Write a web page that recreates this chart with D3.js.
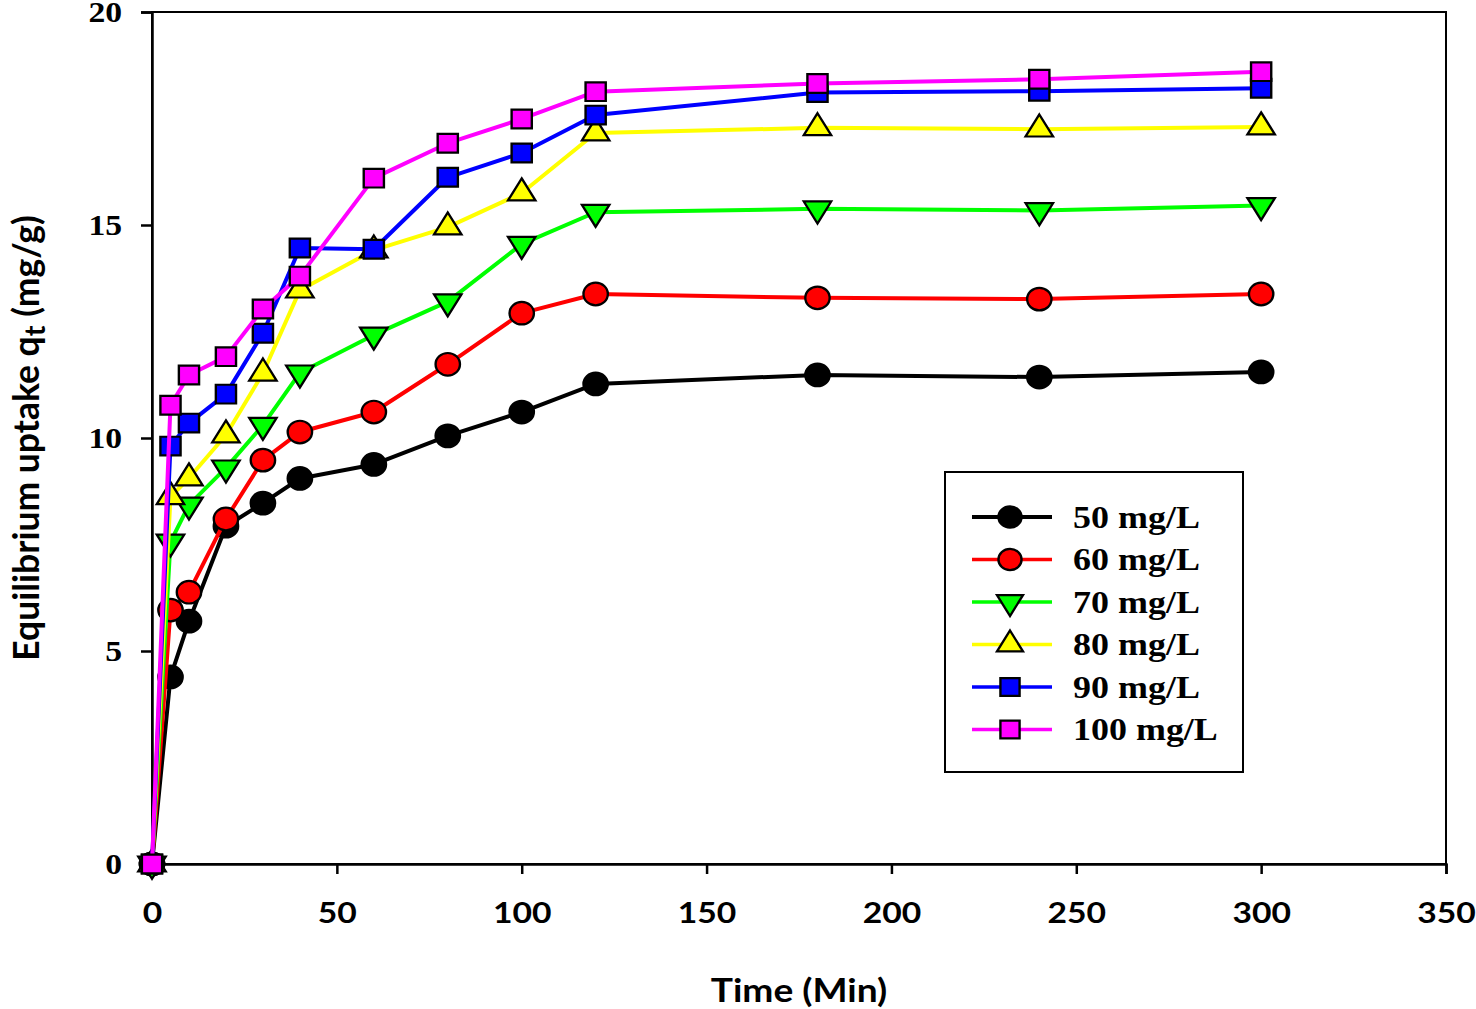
<!DOCTYPE html>
<html>
<head>
<meta charset="utf-8">
<script src="https://cdn.jsdelivr.net/npm/d3@7"></script>
<style>
  body { margin: 0; background: #fff; }
  svg { display: block; }
</style>
</head>
<body>
<div id="chart"></div>
<script>
// time points (min)
var times = [0, 5, 10, 20, 30, 40, 60, 80, 100, 120, 180, 240, 300];

// uptake q_t (mg/g) for each initial concentration
var q50  = [0, 4.39, 5.70, 7.93, 8.47, 9.05, 9.38, 10.05, 10.61, 11.27, 11.48, 11.43, 11.55];
var q60  = [0, 5.96, 6.38, 8.10, 9.48, 10.14, 10.61, 11.73, 12.93, 13.38, 13.29, 13.26, 13.38];
var q70  = [0, 7.56, 8.43, 9.30, 10.30, 11.53, 12.42, 13.20, 14.55, 15.30, 15.38, 15.34, 15.46];
var q80  = [0, 8.62, 9.06, 10.07, 11.52, 13.47, 14.41, 14.95, 15.75, 17.16, 17.28, 17.25, 17.30];
var q90  = [0, 9.81, 10.35, 11.03, 12.46, 14.46, 14.43, 16.12, 16.69, 17.58, 18.11, 18.14, 18.21];
var q100 = [0, 10.77, 11.48, 11.91, 13.03, 13.80, 16.10, 16.92, 17.49, 18.13, 18.32, 18.42, 18.60];

var seriesNames = ["50 mg/L", "60 mg/L", "70 mg/L", "80 mg/L", "90 mg/L", "100 mg/L"];
var seriesValues = [q50, q60, q70, q80, q90, q100];

var xTicks = [0, 50, 100, 150, 200, 250, 300, 350];
var yTicks = [0, 5, 10, 15, 20];

var styles = [
  {color: "#000000", fill: "#000000", shape: "circle"},
  {color: "#ff0000", fill: "#ff0000", shape: "circle"},
  {color: "#00ff00", fill: "#00ff00", shape: "down"},
  {color: "#ffff00", fill: "#ffff00", shape: "up"},
  {color: "#0000ff", fill: "#0000ff", shape: "square"},
  {color: "#ff00ff", fill: "#ff00ff", shape: "square"}
];

var W = 1476, H = 1009;
var margin = {top: 12, right: 30, bottom: 145, left: 152};
var width = W - margin.left - margin.right,
    height = H - margin.top - margin.bottom;

// the source picture is a little wider than tall, so text is stretched sideways
var STRETCH = 1.16;

var x = d3.scaleLinear().domain([0, 350]).range([0, width]);
var y = d3.scaleLinear().domain([0, 20]).range([height, 0]);

var svg = d3.select("#chart").append("svg")
    .attr("width", W)
    .attr("height", H);

var g = svg.append("g")
    .attr("transform", "translate(" + margin.left + "," + margin.top + ")");

var serif = "'Liberation Serif', 'Times New Roman', serif";
var sans = "Lato, 'Open Sans', sans-serif";

function stretch(sel) {
  sel.each(function() {
    var L = this.getComputedTextLength();
    d3.select(this)
      .attr("textLength", L * STRETCH)
      .attr("lengthAdjust", "spacingAndGlyphs");
  });
}

// frame
g.append("rect")
    .attr("width", width)
    .attr("height", height)
    .attr("fill", "none")
    .attr("stroke", "#000")
    .attr("stroke-width", 2);

// axes
var xAxis = g.append("g")
    .attr("transform", "translate(0," + height + ")")
    .call(d3.axisBottom(x).tickValues(xTicks).tickSize(10).tickPadding(28));
var yAxis = g.append("g")
    .call(d3.axisLeft(y).tickValues(yTicks).tickSize(11).tickPadding(19));

[xAxis, yAxis].forEach(function(a) {
  a.select(".domain").attr("stroke-width", 2.5);
  a.selectAll(".tick line").attr("stroke-width", 2.5);
});
xAxis.selectAll(".tick text")
    .attr("font-family", sans)
    .attr("font-weight", "bold")
    .attr("font-size", 29)
    .attr("fill", "#000")
    .call(stretch);
yAxis.selectAll(".tick text")
    .attr("font-family", serif)
    .attr("font-weight", "bold")
    .attr("font-size", 29)
    .attr("fill", "#000")
    .call(stretch);

// axis titles
svg.append("text")
    .attr("x", margin.left + x(175))
    .attr("y", 1002)
    .attr("text-anchor", "middle")
    .attr("font-family", sans)
    .attr("font-weight", "bold")
    .attr("font-size", 32)
    .text("Time (Min)")
    .call(stretch);

var yt = svg.append("text")
    .attr("transform", "translate(39," + (margin.top + y(10)) + ") rotate(-90)")
    .attr("text-anchor", "middle")
    .attr("font-family", sans)
    .attr("font-weight", "bold")
    .attr("font-size", 35.5);
yt.append("tspan").text("Equilibrium uptake q");
yt.append("tspan").attr("baseline-shift", "-22%").attr("font-size", 29).text("t");
yt.append("tspan").text(" (mg/g)");

function symbolPath(shape, scale) {
  scale = scale || 1;
  if (shape === "circle") return d3.symbol().type(d3.symbolCircle).size(400 * scale)();
  if (shape === "square") return d3.symbol().type(d3.symbolSquare).size(350 * scale)();
  return d3.symbol().type(d3.symbolTriangle).size(280 * scale)();
}

function drawMarker(sel, st, scale) {
  sel.append("path")
      .attr("d", symbolPath(st.shape, scale))
      .attr("transform", (st.shape === "down" ? "rotate(180) " : "") + "scale(1.08,1)")
      .attr("fill", st.fill)
      .attr("stroke", "#000")
      .attr("stroke-width", 2.2);
}

var line = d3.line()
    .x(function(d) { return x(d[0]); })
    .y(function(d) { return y(d[1]); });

seriesValues.forEach(function(vals, i) {
  var st = styles[i];
  var pts = times.map(function(t, j) { return [t, vals[j]]; });
  var sg = g.append("g").attr("class", "series");
  sg.append("path")
      .datum(pts)
      .attr("d", line)
      .attr("fill", "none")
      .attr("stroke", st.color)
      .attr("stroke-width", 4)
      .attr("stroke-linejoin", "round");
  sg.selectAll(".pt")
    .data(pts)
    .enter()
    .append("g")
      .attr("class", "pt")
      .attr("transform", function(d) { return "translate(" + x(d[0]) + "," + y(d[1]) + ")"; })
      .each(function() { drawMarker(d3.select(this), st); });
});

// legend
var lg = svg.append("g").attr("transform", "translate(945,472)");
lg.append("rect")
    .attr("width", 298)
    .attr("height", 300)
    .attr("fill", "#fff")
    .attr("stroke", "#000")
    .attr("stroke-width", 2);

seriesNames.forEach(function(name, i) {
  var st = styles[i];
  var row = lg.append("g").attr("transform", "translate(0," + (45 + i * 42.5) + ")");
  row.append("line")
      .attr("x1", 27).attr("x2", 107)
      .attr("stroke", st.color)
      .attr("stroke-width", i === 0 ? 4 : 3.5);
  drawMarker(row.append("g").attr("transform", "translate(65,0)"), st, 0.9);
  row.append("text")
      .attr("x", 128)
      .attr("dy", "0.35em")
      .attr("font-family", serif)
      .attr("font-weight", "bold")
      .attr("font-size", 31)
      .text(name)
      .call(stretch);
});
</script>
</body>
</html>
